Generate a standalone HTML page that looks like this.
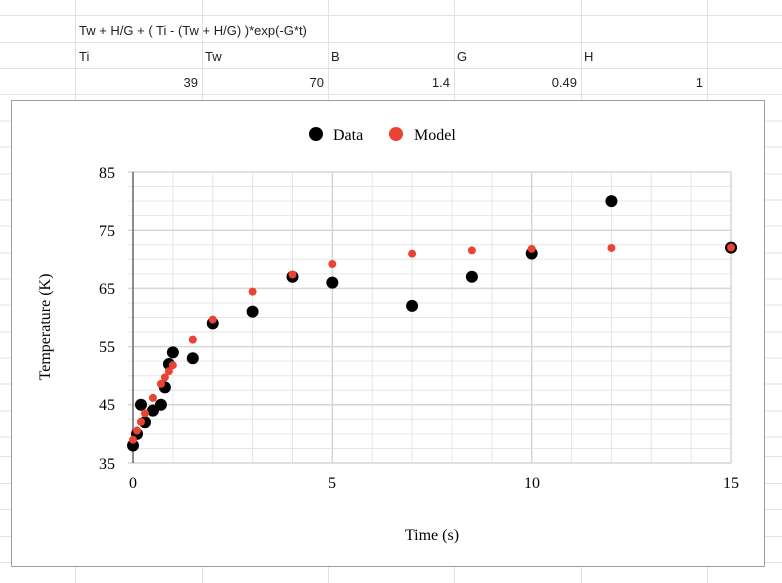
<!DOCTYPE html>
<html><head><style>
body{margin:0;width:782px;height:583px;overflow:hidden;background:#fff;font-family:"Liberation Sans",sans-serif}
</style></head><body>
<svg width="782" height="583" xmlns="http://www.w3.org/2000/svg" style="position:absolute;left:0;top:0">
<g stroke="#e2e2e2" stroke-width="1">
<line x1="75.5" y1="0" x2="75.5" y2="583"/><line x1="202.5" y1="0" x2="202.5" y2="583"/>
<line x1="328.5" y1="0" x2="328.5" y2="583"/><line x1="454.5" y1="0" x2="454.5" y2="583"/>
<line x1="581.5" y1="0" x2="581.5" y2="583"/><line x1="707.5" y1="0" x2="707.5" y2="583"/>
<line x1="0" y1="15.5" x2="782" y2="15.5"/><line x1="0" y1="42.5" x2="782" y2="42.5"/>
<line x1="0" y1="68.5" x2="782" y2="68.5"/><line x1="0" y1="94.5" x2="782" y2="94.5"/>
<line x1="0" y1="121" x2="782" y2="121"/><line x1="0" y1="147" x2="782" y2="147"/>
<line x1="0" y1="174" x2="782" y2="174"/><line x1="0" y1="200" x2="782" y2="200"/>
<line x1="0" y1="226" x2="782" y2="226"/><line x1="0" y1="253" x2="782" y2="253"/>
<line x1="0" y1="279" x2="782" y2="279"/><line x1="0" y1="305" x2="782" y2="305"/>
<line x1="0" y1="332" x2="782" y2="332"/><line x1="0" y1="358" x2="782" y2="358"/>
<line x1="0" y1="384" x2="782" y2="384"/><line x1="0" y1="411" x2="782" y2="411"/>
<line x1="0" y1="437" x2="782" y2="437"/><line x1="0" y1="456.5" x2="782" y2="456.5"/>
<line x1="0" y1="483.5" x2="782" y2="483.5"/><line x1="0" y1="509.5" x2="782" y2="509.5"/>
<line x1="0" y1="536.5" x2="782" y2="536.5"/><line x1="0" y1="562.5" x2="782" y2="562.5"/>
</g>
<g font-family="Liberation Sans, sans-serif" font-size="13" fill="#222">
<text x="79" y="35">Tw + H/G + ( Ti - (Tw + H/G) )*exp(-G*t)</text>
<text x="79" y="61">Ti</text><text x="205" y="61">Tw</text><text x="331" y="61">B</text>
<text x="457" y="61">G</text><text x="584" y="61">H</text>
<g text-anchor="end"><text x="198" y="87">39</text><text x="324" y="87">70</text><text x="450" y="87">1.4</text><text x="577" y="87">0.49</text><text x="703" y="87">1</text></g>
</g>
<rect x="11.5" y="100.5" width="753" height="466" fill="#fff" stroke="#9e9e9e"/>
<g id="grid" stroke="#e6e6e6" stroke-width="1"></g>
<g id="maj" stroke="#d6d6d6" stroke-width="1.5"></g>
<line x1="133" y1="172" x2="133" y2="463" stroke="#666" stroke-width="1.5"/>
<g id="pts"></g>
<g font-family="Liberation Serif, serif" font-size="16" fill="#000">
<g text-anchor="end"><text x="115" y="178">85</text><text x="115" y="236">75</text><text x="115" y="294">65</text><text x="115" y="352">55</text><text x="115" y="410">45</text><text x="115" y="469">35</text></g>
<g text-anchor="middle"><text x="133" y="488">0</text><text x="332" y="488">5</text><text x="532" y="488">10</text><text x="731" y="488">15</text>
<text x="432" y="540">Time (s)</text>
<text transform="translate(50,327) rotate(-90)">Temperature (K)</text></g>
<circle cx="316" cy="134" r="7" fill="#000"/><text x="333" y="140">Data</text>
<circle cx="396" cy="134" r="7" fill="#ea4335"/><text x="414" y="140">Model</text>
</g>
</svg>
<script>
var ns="http://www.w3.org/2000/svg";
function X(t){return 133+t*39.87}function Y(T){return 463-(T-35)*5.82}
function add(g,tag,a){var e=document.createElementNS(ns,tag);for(var k in a)e.setAttribute(k,a[k]);document.getElementById(g).appendChild(e);}
for(var i=1;i<=15;i++){add(i%5==0?'maj':'grid','line',{x1:X(i),x2:X(i),y1:172,y2:463});}
for(var v=35;v<=85;v+=2.5){add((v-35)%10==0?'maj':'grid','line',{x1:128,x2:X(15),y1:Y(v),y2:Y(v)});}
var d=[[0,38],[0.1,40],[0.2,45],[0.3,42],[0.5,44],[0.7,45],[0.8,48],[0.9,52],[1,54],[1.5,53],[2,59],[3,61],[4,67],[5,66],[7,62],[8.5,67],[10,71],[12,80],[15,72]];
d.forEach(function(p){add('pts','circle',{cx:X(p[0]),cy:Y(p[1]),r:6,fill:'#000'});});
d.forEach(function(p){var m=72.0408+(39-72.0408)*Math.exp(-0.49*p[0]);add('pts','circle',{cx:X(p[0]),cy:Y(m),r:4,fill:'#ea4335'});});
</script>
</body></html>
